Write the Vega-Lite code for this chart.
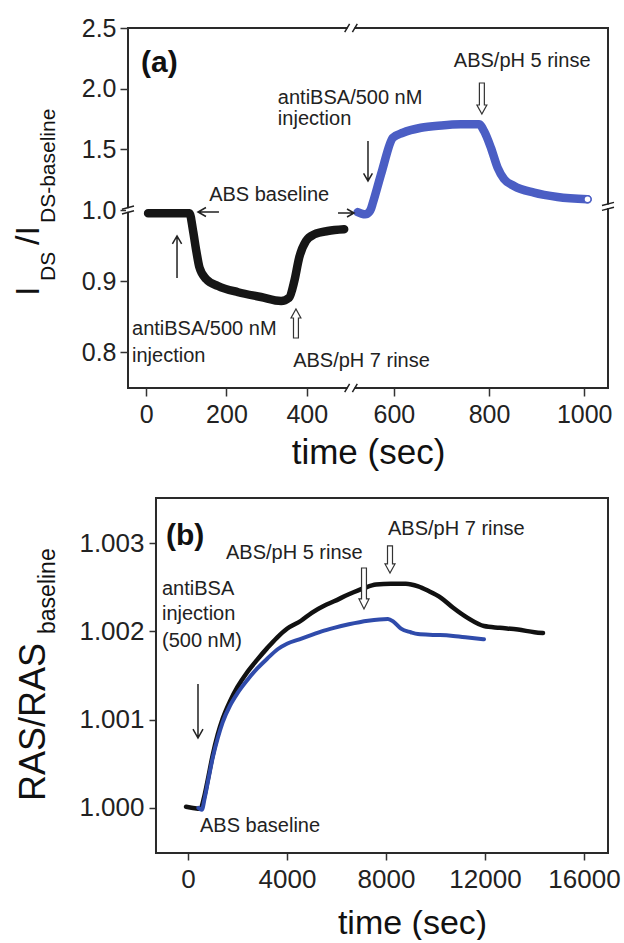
{
  "$schema": "https://vega.github.io/schema/vega-lite/v6.json",
  "background": "white",
  "padding": {"left": 11, "top": 15, "right": 5, "bottom": 0},
  "spacing": 23,
  "config": {
    "font": "Liberation Sans",
    "view": {"stroke": null},
    "axis": {"grid": false, "domain": false, "labelColor": "#222", "tickColor": "#333", "tickWidth": 1.5, "labelFont": "Liberation Sans", "titleFont": "Liberation Sans", "titleFontWeight": "normal", "titleColor": "#111"}
  },
  "datasets": {
    "a_black": [
      {"t": 5, "v": 0.9954}, {"t": 50, "v": 0.9954}, {"t": 108, "v": 0.9954}, {"t": 117, "v": 0.9705},
      {"t": 125, "v": 0.9424}, {"t": 133, "v": 0.919}, {"t": 150, "v": 0.9027}, {"t": 179, "v": 0.8933},
      {"t": 229, "v": 0.8845}, {"t": 286, "v": 0.8778}, {"t": 336, "v": 0.8722}, {"t": 356, "v": 0.8768},
      {"t": 369, "v": 0.9003}, {"t": 381, "v": 0.933}, {"t": 398, "v": 0.9565}, {"t": 419, "v": 0.9659},
      {"t": 452, "v": 0.9705}, {"t": 493, "v": 0.9729}
    ],
    "a_blue": [
      {"t": 524, "v": 0.997}, {"t": 532, "v": 0.995}, {"t": 540, "v": 0.994}, {"t": 548, "v": 0.997},
      {"t": 552, "v": 1.01}, {"t": 556, "v": 1.06}, {"t": 575, "v": 1.32}, {"t": 598, "v": 1.596},
      {"t": 619, "v": 1.637}, {"t": 657, "v": 1.678}, {"t": 700, "v": 1.697}, {"t": 741, "v": 1.706},
      {"t": 779, "v": 1.707}, {"t": 789.5, "v": 1.651}, {"t": 804, "v": 1.513}, {"t": 818, "v": 1.349},
      {"t": 831.5, "v": 1.2555}, {"t": 852.5, "v": 1.198}, {"t": 894.5, "v": 1.1426}, {"t": 944, "v": 1.107},
      {"t": 1007, "v": 1.088}
    ],
    "b_black": [
      {"t": -80, "v": 1.000013}, {"t": 200, "v": 1.0}, {"t": 500, "v": 0.99999}, {"t": 650, "v": 1.00012},
      {"t": 800, "v": 1.00032}, {"t": 1000, "v": 1.0006}, {"t": 1200, "v": 1.00083}, {"t": 1400, "v": 1.00101},
      {"t": 1700, "v": 1.00121}, {"t": 2000, "v": 1.00137}, {"t": 2400, "v": 1.00154}, {"t": 2800, "v": 1.00168},
      {"t": 3200, "v": 1.00181}, {"t": 3600, "v": 1.00193}, {"t": 4000, "v": 1.00203}, {"t": 4566, "v": 1.00212},
      {"t": 5000, "v": 1.00221}, {"t": 5500, "v": 1.00229}, {"t": 5900, "v": 1.00234}, {"t": 6500, "v": 1.00242},
      {"t": 7111, "v": 1.00249}, {"t": 7600, "v": 1.00253}, {"t": 8200, "v": 1.00254}, {"t": 8800, "v": 1.00254},
      {"t": 9300, "v": 1.00251}, {"t": 9700, "v": 1.00246}, {"t": 10222, "v": 1.00238}, {"t": 10700, "v": 1.00227},
      {"t": 11313, "v": 1.00215}, {"t": 11960, "v": 1.00206}, {"t": 12600, "v": 1.00204}, {"t": 13333, "v": 1.00202},
      {"t": 14000, "v": 1.00199}, {"t": 14343, "v": 1.00198}
    ],
    "b_blue": [
      {"t": 420, "v": 1.0}, {"t": 560, "v": 0.99998}, {"t": 680, "v": 1.00012}, {"t": 820, "v": 1.00032},
      {"t": 1000, "v": 1.00057}, {"t": 1200, "v": 1.00079}, {"t": 1400, "v": 1.00097}, {"t": 1700, "v": 1.00116},
      {"t": 2000, "v": 1.0013}, {"t": 2400, "v": 1.00145}, {"t": 2800, "v": 1.00158}, {"t": 3200, "v": 1.00169},
      {"t": 3636, "v": 1.0018}, {"t": 4000, "v": 1.00186}, {"t": 4500, "v": 1.00191}, {"t": 5000, "v": 1.00196},
      {"t": 5400, "v": 1.002}, {"t": 5900, "v": 1.00204}, {"t": 6500, "v": 1.00208}, {"t": 7273, "v": 1.00212},
      {"t": 8081, "v": 1.00214}, {"t": 8300, "v": 1.00211}, {"t": 8606, "v": 1.00203}, {"t": 9000, "v": 1.00199},
      {"t": 9293, "v": 1.00197}, {"t": 10000, "v": 1.00196}, {"t": 10626, "v": 1.00195}, {"t": 11300, "v": 1.00193},
      {"t": 11960, "v": 1.00191}
    ],
    "b_frame": [
      {"i": 0, "t": -1293, "v": 0.99949}, {"i": 1, "t": -1293, "v": 1.00351},
      {"i": 2, "t": 16970, "v": 1.00351}, {"i": 3, "t": 16970, "v": 0.99949},
      {"i": 4, "t": -1293, "v": 0.99949}
    ],
    "a_text": [
      {"t": 726, "v": 2.228, "label": "ABS/pH 5 rinse"},
      {"t": 328, "v": 1.923, "label": "antiBSA/500 nM"},
      {"t": 328, "v": 1.75, "label": "injection"},
      {"t": 157, "v": 1.124, "label": "ABS baseline"},
      {"t": -35, "v": 0.8329, "label": "antiBSA/500 nM"},
      {"t": -35, "v": 0.795, "label": "injection"},
      {"t": 366, "v": 0.7879, "label": "ABS/pH 7 rinse"}
    ],
    "b_text": [
      {"t": 1535, "v": 1.002887, "label": "ABS/pH 5 rinse"},
      {"t": 8081, "v": 1.003159, "label": "ABS/pH 7 rinse"},
      {"t": -1051, "v": 1.00248, "label": "antiBSA"},
      {"t": -1051, "v": 1.002196, "label": "injection"},
      {"t": -1051, "v": 1.001891, "label": "(500 nM)"},
      {"t": 485, "v": 0.999796, "label": "ABS baseline"}
    ]
  },
  "vconcat": [
    {
      "width": 480,
      "height": 360,
      "view": {"stroke": "#2a2a2a", "strokeWidth": 2},
      "encoding": {
        "x": {"field": "t", "type": "quantitative",
          "scale": {"domain": [-45, 510, 1050], "range": [0, 223, 480], "nice": false, "zero": false},
          "axis": {"values": [0, 200, 400, 600, 800, 1000], "format": "d", "labelFontSize": 25, "tickSize": 8, "labelPadding": 6, "title": "time (sec)", "titleFontSize": 35, "titlePadding": 8}},
        "y": {"field": "v", "type": "quantitative",
          "scale": {"domain": [0.75, 1.0, 2.5], "range": [360, 182, 0], "nice": false, "zero": false},
          "axis": {"values": [0.8, 0.9, 1.0, 1.5, 2.0, 2.5], "format": ".1f", "labelFontSize": 25, "tickSize": 8, "labelPadding": 4, "title": null}}
      },
      "layer": [
        {"data": {"name": "a_black"}, "mark": {"type": "line", "color": "#161616", "strokeWidth": 8.5, "interpolate": "monotone", "strokeCap": "round"}},
        {"data": {"name": "a_blue"}, "mark": {"type": "line", "color": "#4b5ec4", "strokeWidth": 8.5, "interpolate": "monotone", "strokeCap": "round"}},
        {"data": {"name": "a_blue"}, "transform": [{"filter": "datum.t > 1000"}], "mark": {"type": "point", "shape": "circle", "size": 50, "filled": true, "fill": "white", "stroke": "#4b5ec4", "strokeWidth": 1.5, "opacity": 1}},
        {"data": {"values": [{"t": 510, "v": 2.5}, {"t": 510, "v": 0.75}]}, "mark": {"type": "point", "shape": "M-0.5,-0.2L0.5,-0.2L0.5,0.2L-0.5,0.2Z", "size": 196, "filled": true, "color": "white", "strokeWidth": 0, "opacity": 1}},
        {"data": {"values": [{"t": 510, "v": 2.5}, {"t": 510, "v": 0.75}]}, "mark": {"type": "point", "shape": "M-0.9,0.6L-0.2,-0.6M0.2,0.6L0.9,-0.6", "size": 196, "filled": false, "color": "#222", "strokeWidth": 1.5, "opacity": 1}},
        {"data": {"values": [{"t": -45, "v": 1.0}, {"t": 1050, "v": 1.03}]}, "mark": {"type": "point", "shape": "M-0.25,-0.22L0.25,-0.22L0.25,0.22L-0.25,0.22Z", "size": 256, "filled": true, "color": "white", "strokeWidth": 0, "opacity": 1}},
        {"data": {"values": [{"t": -45, "v": 1.0}, {"t": 1050, "v": 1.03}]}, "mark": {"type": "point", "shape": "M-0.75,-0.1L0.75,-0.5M-0.75,0.5L0.75,0.1", "size": 256, "filled": false, "color": "#222", "strokeWidth": 1.5, "opacity": 1}},
        {"data": {"name": "a_text"}, "mark": {"type": "text", "align": "left", "baseline": "middle", "fontSize": 20, "color": "#222"}, "encoding": {"text": {"field": "label"}}},
        {"data": {"values": [{"t": -12.6, "v": 2.2116, "label": "(a)"}]}, "mark": {"type": "text", "align": "left", "baseline": "middle", "fontSize": 30, "fontWeight": "bold", "color": "#111"}, "encoding": {"text": {"field": "label"}}},
        {"data": {"values": [{"t": 545.7, "v": 1.404}]}, "mark": {"type": "point", "shape": "M0,-1L0,1M-0.22,0.62L0,1L0.22,0.62", "size": 1600, "filled": false, "color": "#222", "strokeWidth": 1.5, "opacity": 1}},
        {"data": {"values": [{"t": 77, "v": 0.934}]}, "mark": {"type": "point", "shape": "M0,1L0,-1M-0.22,-0.62L0,-1L0.22,-0.62", "size": 1764, "filled": false, "color": "#222", "strokeWidth": 1.5, "opacity": 1}},
        {"data": {"values": [{"t": 155.3, "v": 0.9972}]}, "mark": {"type": "point", "shape": "M-1,0L1,0M-0.24,-0.43L-1,0L-0.24,0.43", "size": 441, "filled": false, "color": "#222", "strokeWidth": 1.5, "opacity": 1}},
        {"data": {"values": [{"t": 497.6, "v": 0.9958}]}, "mark": {"type": "point", "shape": "M-1,0L1,0M0.125,-0.5L1,0L0.125,0.5", "size": 256, "filled": false, "color": "#222", "strokeWidth": 1.5, "opacity": 1}},
        {"data": {"values": [{"t": 785, "v": 1.919}]}, "mark": {"type": "point", "shape": "M-0.16,-1L0.16,-1L0.16,0.42L0.32,0.42L0,1L-0.32,0.42L-0.16,0.42Z", "size": 961, "filled": true, "fill": "white", "stroke": "#333", "strokeWidth": 1.2, "opacity": 1}},
        {"data": {"values": [{"t": 373, "v": 0.8406}]}, "mark": {"type": "point", "shape": "M-0.17,1L0.17,1L0.17,-0.38L0.34,-0.38L0,-1L-0.34,-0.38L-0.17,-0.38Z", "size": 841, "filled": true, "fill": "white", "stroke": "#333", "strokeWidth": 1.2, "opacity": 1}},
        {"data": {"values": [{"t": -266.5, "v": 0.8792, "label": "I"}, {"t": -266.5, "v": 0.9508, "label": "/I"}]}, "mark": {"type": "text", "angle": 270, "align": "left", "baseline": "alphabetic", "fontSize": 34, "color": "#111"}, "encoding": {"text": {"field": "label"}}},
        {"data": {"values": [{"t": -226.7, "v": 0.9003, "label": "DS"}, {"t": -226.7, "v": 0.9817, "label": "DS-baseline"}]}, "mark": {"type": "text", "angle": 270, "align": "left", "baseline": "alphabetic", "fontSize": 21, "color": "#111"}, "encoding": {"text": {"field": "label"}}}
      ]
    },
    {
      "width": 480,
      "height": 355,
      "encoding": {
        "x": {"field": "t", "type": "quantitative",
          "scale": {"domain": [-2424, 16970], "nice": false, "zero": false},
          "axis": {"values": [0, 4000, 8000, 12000, 16000], "format": "d", "labelFontSize": 26, "tickSize": 7, "labelPadding": 6, "title": "time (sec)", "titleFontSize": 34, "titlePadding": 14, "titleX": 284}},
        "y": {"field": "v", "type": "quantitative",
          "scale": {"domain": [0.99949, 1.00351], "nice": false, "zero": false},
          "axis": {"values": [1.0, 1.001, 1.002, 1.003], "format": ".3f", "labelFontSize": 26, "tickSize": 7, "labelPadding": 5, "offset": -28, "title": null}}
      },
      "layer": [
        {"data": {"name": "b_frame"}, "mark": {"type": "line", "color": "#2a2a2a", "strokeWidth": 2, "strokeCap": "square", "strokeJoin": "miter"}, "encoding": {"order": {"field": "i", "type": "quantitative"}}},
        {"data": {"name": "b_black"}, "mark": {"type": "line", "color": "#111111", "strokeWidth": 4.5, "interpolate": "monotone", "strokeCap": "round"}},
        {"data": {"name": "b_blue"}, "mark": {"type": "line", "color": "#2f4bab", "strokeWidth": 4, "interpolate": "monotone", "strokeCap": "round"}},
        {"data": {"name": "b_text"}, "mark": {"type": "text", "align": "left", "baseline": "middle", "fontSize": 20, "color": "#222"}, "encoding": {"text": {"field": "label"}}},
        {"data": {"values": [{"t": -889, "v": 1.00308, "label": "(b)"}]}, "mark": {"type": "text", "align": "left", "baseline": "middle", "fontSize": 30, "fontWeight": "bold", "color": "#111"}, "encoding": {"text": {"field": "label"}}},
        {"data": {"values": [{"t": 404, "v": 1.001098}]}, "mark": {"type": "point", "shape": "M0,-1L0,1M-0.185,0.67L0,1L0.185,0.67", "size": 2916, "filled": false, "color": "#222", "strokeWidth": 1.5, "opacity": 1}},
        {"data": {"values": [{"t": 7111, "v": 1.002485}]}, "mark": {"type": "point", "shape": "M-0.12,-1L0.12,-1L0.12,0.51L0.245,0.51L0,1L-0.245,0.51L-0.12,0.51Z", "size": 1681, "filled": true, "fill": "white", "stroke": "#333", "strokeWidth": 1.2, "opacity": 1}},
        {"data": {"values": [{"t": 8162, "v": 1.002814}]}, "mark": {"type": "point", "shape": "M-0.185,-1L0.185,-1L0.185,0.33L0.37,0.33L0,1L-0.37,0.33L-0.185,0.33Z", "size": 729, "filled": true, "fill": "white", "stroke": "#333", "strokeWidth": 1.2, "opacity": 1}},
        {"data": {"values": [{"t": -5778, "v": 1.000079, "label": "RAS/RAS"}]}, "mark": {"type": "text", "angle": 270, "align": "left", "baseline": "alphabetic", "fontSize": 36, "color": "#111"}, "encoding": {"text": {"field": "label"}}},
        {"data": {"values": [{"t": -5374, "v": 1.00197, "label": "baseline"}]}, "mark": {"type": "text", "angle": 270, "align": "left", "baseline": "alphabetic", "fontSize": 23, "color": "#111"}, "encoding": {"text": {"field": "label"}}}
      ]
    }
  ]
}
